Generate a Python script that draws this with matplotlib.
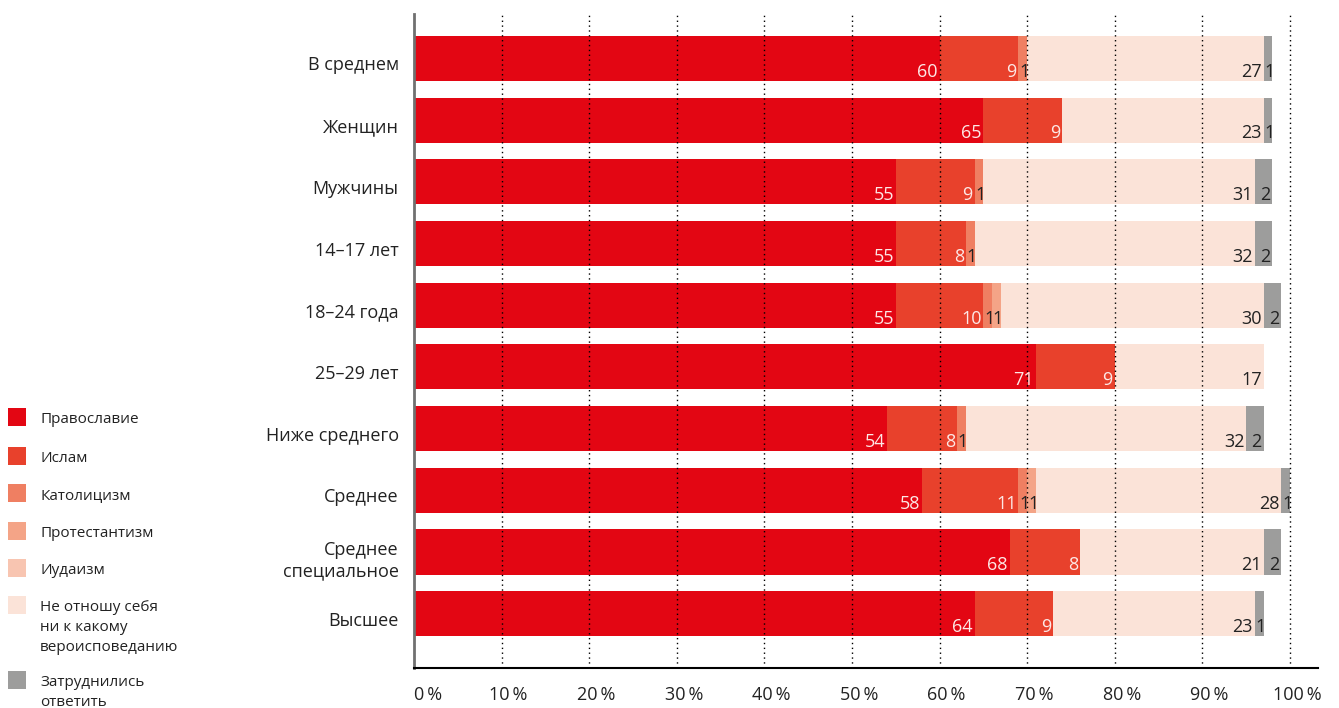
import matplotlib
matplotlib.use("Agg")
import matplotlib.pyplot as plt
from matplotlib.patches import Rectangle
from matplotlib.transforms import ScaledTranslation
import numpy as np

plt.rcParams['font.family'] = ['Open Sans', 'DejaVu Sans']

categories = ["В среднем", "Женщин", "Мужчины", "14–17 лет", "18–24 года", "25–29 лет",
              "Ниже среднего", "Среднее", "Среднее\nспециальное", "Высшее"]
orthodox   = [60, 65, 55, 55, 55, 71, 54, 58, 68, 64]
islam      = [9, 9, 9, 8, 10, 9, 8, 11, 8, 9]
catholic   = [1, 0, 1, 1, 1, 0, 1, 1, 0, 0]
protestant = [0, 0, 0, 0, 1, 0, 0, 1, 0, 0]
judaism    = [0, 0, 0, 0, 0, 0, 0, 0, 0, 0]
no_religion = [27, 23, 31, 32, 30, 17, 32, 28, 21, 23]
undecided  = [1, 1, 2, 2, 2, 0, 2, 1, 2, 1]

series_names = ["Православие", "Ислам", "Католицизм", "Протестантизм", "Иудаизм",
                "Не отношу себя\nни к какому\nвероисповеданию", "Затруднились\nответить"]
series = [orthodox, islam, catholic, protestant, judaism, no_religion, undecided]
colors = ["#e30613", "#e8412c", "#ef7f62", "#f4a487", "#f8c5b1", "#fbe3d8", "#9d9d9c"]
label_colors = ["#fde8e6", "#fde8e6", "#222222", "#222222", "#222222", "#222222", "#222222"]

xticks = [0, 10, 20, 30, 40, 50, 60, 70, 80, 90, 100]
xticklabels = [f"{t}\u2009%" for t in xticks]

fig = plt.figure(figsize=(13.39, 7.08), dpi=100)
ax = fig.add_axes([414/1339, 1-668/708, (1318-414)/1339, (668-14)/708])

y = np.arange(len(categories))
bar_h = 0.73
left = np.zeros(len(categories))
for vals, col, lcol in zip(series, colors, label_colors):
    vals = np.array(vals, dtype=float)
    ax.barh(y, vals, left=left, height=bar_h, color=col, edgecolor='none', zorder=1)
    for i, v in enumerate(vals):
        if v > 0:
            txt = f"{int(v)}"
            dx = 1.6 if txt == "1" else -1.4
            ax.annotate(txt, xy=(left[i] + v, y[i] + bar_h/2), xytext=(dx, 3),
                        textcoords='offset points', ha='right', va='baseline',
                        fontsize=13, color=lcol, zorder=3)
    left += vals

ax.set_xlim(0, (1318-414)/8.76)
ax.set_ylim(len(categories) - 1 + 0.88, -0.72)

# gridlines
for t in xticks[1:]:
    ax.axvline(t, color='black', linestyle=(0, (1, 2.5)), linewidth=1.0, zorder=2)

ax.set_xticks(xticks)
ax.set_xticklabels(xticklabels, fontsize=13, color='#222222')
ax.tick_params(axis='x', length=0, pad=13)
for i, lab in enumerate(ax.get_xticklabels()):
    if i == 0:
        lab.set_ha('left')
    else:
        lab.set_transform(lab.get_transform() + ScaledTranslation(7/100, 0, fig.dpi_scale_trans))

ax.set_yticks(y)
ax.set_yticklabels(categories, fontsize=13, color='#222222', linespacing=1.2)
ax.tick_params(axis='y', length=0, pad=11)
for lab in ax.get_yticklabels():
    lab.set_transform(lab.get_transform() + ScaledTranslation(0, -5/100, fig.dpi_scale_trans))

for s in ['top', 'right']:
    ax.spines[s].set_visible(False)
ax.spines['left'].set_color('#707070')
ax.spines['left'].set_linewidth(2)
ax.spines['bottom'].set_color('black')
ax.spines['bottom'].set_linewidth(1.5)

# legend
leg_y = [417, 456, 493, 531, 568, 605, 680]
for name, col, yy in zip(series_names, colors, leg_y):
    fig.patches.append(Rectangle((8/1339, 1-(yy+9)/708), 18/1339, 18/708,
                                 transform=fig.transFigure, facecolor=col, edgecolor='none'))
    fig.text(40/1339, 1-(yy-5)/708, name, ha='left', va='top', fontsize=11,
             color='#222222', linespacing=1.45)

fig.savefig("out.png", dpi=100)
